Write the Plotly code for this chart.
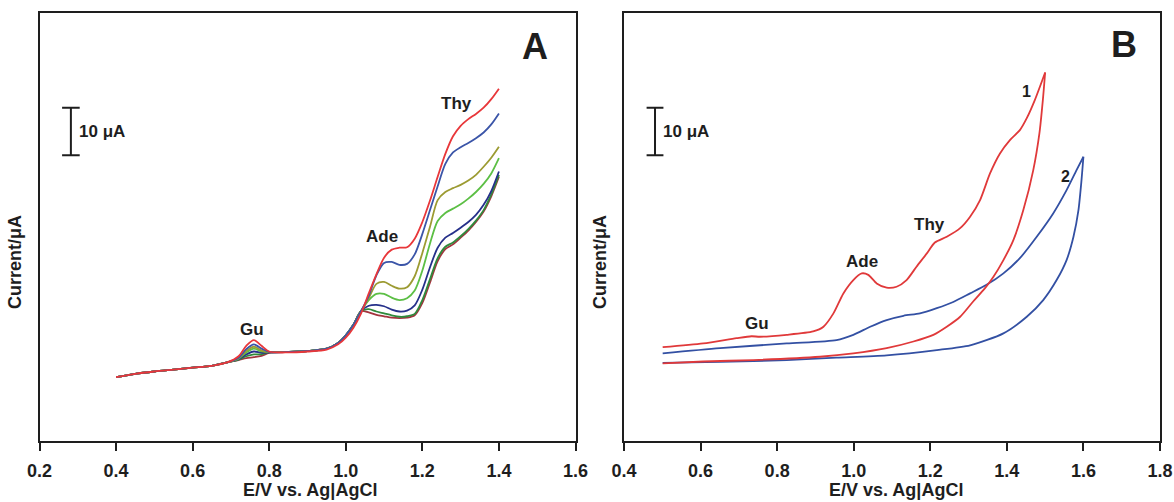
import plotly.graph_objects as go

# ---------------- Panel A data (DPV, several concentrations) ----------------
E_A = [0.40, 0.45, 0.50, 0.55, 0.60, 0.65, 0.69, 0.72, 0.74, 0.76, 0.78, 0.80,
       0.85, 0.90, 0.95, 0.98, 1.00, 1.02, 1.04, 1.06, 1.08, 1.10, 1.12, 1.14,
       1.16, 1.18, 1.20, 1.22, 1.24, 1.26, 1.28, 1.30, 1.32, 1.34, 1.36, 1.38, 1.40]

BASE_LOW = [13.4, 14.1, 14.6, 15.0, 15.4, 15.8, 16.5]
BASE_MID = [18.7, 18.9, 19.4, 20.6, 22.2, 24.4, 27.3]

GU_RED = [17.8, 20.0, 21.2, 20.0, 18.8]
GU_BLUE = [17.5, 19.3, 20.3, 19.4, 18.7]
GU_OLIVE = [17.4, 18.9, 19.8, 19.0, 18.7]
GU_GREEN = [17.3, 18.6, 19.4, 18.8, 18.7]
GU_NAVY = [17.2, 18.2, 18.8, 18.5, 18.6]
GU_DKGREEN = [17.1, 17.8, 18.2, 18.2, 18.6]
GU_MAROON = [17.0, 17.4, 17.6, 17.9, 18.5]

MID_RED = [18.6, 18.8, 19.2, 20.3, 21.7, 23.8, 26.8]

HI_RED = [31.0, 35.0, 38.5, 40.2, 40.6, 40.7, 42.5, 46.0, 50.5, 55.5, 60.3, 64.0,
          66.2, 67.6, 68.7, 70.0, 71.8, 74.0]
HI_BLUE = [30.5, 34.8, 37.4, 37.6, 37.0, 37.2, 39.2, 43.5, 48.5, 53.5, 58.2, 60.6,
           61.7, 62.6, 63.6, 64.8, 66.5, 68.8]
HI_OLIVE = [30.0, 33.0, 33.4, 32.6, 32.0, 32.3, 34.6, 39.5, 45.0, 50.6, 52.3, 53.1,
            53.8, 54.7, 55.9, 57.6, 59.5, 61.8]
HI_GREEN = [29.6, 30.9, 30.9, 30.1, 29.6, 30.0, 31.6, 35.8, 41.5, 46.2, 47.9, 48.8,
            49.7, 50.9, 52.3, 54.0, 56.2, 59.4]
HI_NAVY = [28.4, 28.6, 28.3, 27.6, 27.2, 27.4, 28.5, 31.8, 36.5, 40.6, 42.7, 43.7,
           44.8, 46.0, 47.5, 49.6, 52.5, 56.6]
HI_DKGREEN = [27.7, 27.2, 26.8, 26.4, 26.1, 26.2, 26.7, 29.6, 34.0, 38.4, 40.8, 41.7,
              43.0, 44.5, 46.3, 48.5, 51.8, 55.9]
HI_MAROON = [27.0, 26.5, 26.2, 25.9, 25.8, 25.9, 26.4, 29.0, 33.3, 37.8, 40.3, 41.3,
             42.7, 44.2, 46.0, 48.2, 51.4, 55.5]

A_SERIES = [
    ("#a3343e", GU_MAROON, BASE_MID, HI_MAROON),
    ("#2f8a3c", GU_DKGREEN, BASE_MID, HI_DKGREEN),
    ("#26308a", GU_NAVY, BASE_MID, HI_NAVY),
    ("#5cbf45", GU_GREEN, BASE_MID, HI_GREEN),
    ("#9c9b32", GU_OLIVE, BASE_MID, HI_OLIVE),
    ("#3b55a8", GU_BLUE, BASE_MID, HI_BLUE),
    ("#e8373a", GU_RED, MID_RED, HI_RED),
]

# ---------------- Panel B data (CV, curves 1 and 2) ----------------
B1_FWD_E = [0.501, 0.607, 0.694, 0.733, 0.755, 0.825, 0.894, 0.921, 0.947, 0.973,
            0.999, 1.021, 1.038, 1.060, 1.086, 1.112, 1.138, 1.164, 1.191, 1.212,
            1.243, 1.278, 1.304, 1.330, 1.356, 1.382, 1.408, 1.434, 1.452, 1.473, 1.500]
B1_FWD_I = [19.7, 20.5, 21.6, 22.0, 21.9, 22.3, 23.0, 24.0, 26.8, 31.0,
            33.8, 35.2, 34.9, 33.1, 32.2, 32.4, 33.8, 36.6, 39.4, 41.7,
            42.9, 44.7, 47.1, 50.6, 56.2, 60.4, 63.2, 65.3, 67.8, 71.6, 77.4]
B1_REV_E = [1.500, 1.494, 1.485, 1.469, 1.443, 1.417, 1.391, 1.365, 1.343, 1.312,
            1.278, 1.243, 1.208, 1.156, 1.086, 0.999, 0.912, 0.738, 0.607, 0.501]
B1_REV_I = [77.4, 71.6, 64.6, 56.9, 48.5, 42.2, 38.0, 34.5, 32.1, 29.3,
            26.1, 24.0, 22.3, 20.9, 19.5, 18.4, 17.7, 17.0, 16.7, 16.3]

B2_FWD_E = [0.501, 0.651, 0.825, 0.955, 0.999, 1.043, 1.086, 1.130, 1.173, 1.217,
            1.260, 1.304, 1.347, 1.391, 1.434, 1.478, 1.521, 1.556, 1.582, 1.600]
B2_FWD_I = [18.4, 19.5, 20.5, 21.2, 22.3, 24.0, 25.4, 26.3, 26.8, 27.9,
            29.2, 31.0, 32.8, 35.2, 38.4, 42.9, 47.8, 52.7, 56.9, 59.7]
B2_REV_E = [1.600, 1.595, 1.587, 1.574, 1.556, 1.530, 1.495, 1.452, 1.391, 1.304,
            1.217, 1.086, 0.955, 0.825, 0.651, 0.501]
B2_REV_I = [59.7, 54.8, 48.5, 42.9, 38.0, 33.8, 29.6, 26.1, 22.6, 20.1,
            19.1, 18.0, 17.5, 17.0, 16.6, 16.4]

RED_B = "#e0393a"
BLUE_B = "#3350a3"

X_TICKS_A = [0.2, 0.4, 0.6, 0.8, 1.0, 1.2, 1.4, 1.6]
X_TICKS_B = [0.4, 0.6, 0.8, 1.0, 1.2, 1.4, 1.6, 1.8]
X_LABEL = "E/V vs. Ag|AgCl"
Y_LABEL = "Current/μA"
SCALE_UA = 10

FONT = "Liberation Sans, Arial, sans-serif"
INK = "#1e1e1e"

fig = go.Figure()

for color, gu, mid, hi in A_SERIES:
    y = BASE_LOW + gu + mid + hi
    fig.add_trace(go.Scatter(x=E_A, y=y, mode="lines", xaxis="x", yaxis="y",
                             line=dict(color=color, width=1.8, shape="spline", smoothing=0.8),
                             showlegend=False, hoverinfo="skip"))

for ex, iy, col in [(B2_REV_E, B2_REV_I, BLUE_B), (B2_FWD_E, B2_FWD_I, BLUE_B),
                    (B1_REV_E, B1_REV_I, RED_B), (B1_FWD_E, B1_FWD_I, RED_B)]:
    fig.add_trace(go.Scatter(x=ex, y=iy, mode="lines", xaxis="x2", yaxis="y2",
                             line=dict(color=col, width=1.8, shape="spline", smoothing=0.7),
                             showlegend=False, hoverinfo="skip"))

W, H = 1174, 502
dom_a = [39.5 / W, 575.5 / W]
dom_b = [624 / W, 1160 / W]
dom_y = [(H - 441) / H, (H - 12.5) / H]
YR = [0, 90]

xcommon = dict(showline=True, linewidth=2, linecolor=INK, mirror=True, ticks="outside",
               ticklen=8, tickwidth=2, tickcolor=INK, showgrid=False, zeroline=False,
               tickfont=dict(family=FONT, size=18, color=INK, weight="bold"),
               tickformat=".1f", ticklabelstandoff=4, automargin=False)
ycommon = dict(showline=True, linewidth=2, linecolor=INK, mirror=True, ticks="",
               showticklabels=False, showgrid=False, zeroline=False, range=YR,
               automargin=False)

fig.update_layout(
    width=W, height=H, margin=dict(l=0, r=0, t=0, b=0),
    paper_bgcolor="white", plot_bgcolor="white",
    xaxis=dict(domain=dom_a, range=[0.2, 1.6], tickvals=X_TICKS_A, anchor="y", **xcommon),
    yaxis=dict(domain=dom_y, anchor="x", **ycommon),
    xaxis2=dict(domain=dom_b, range=[0.4, 1.8], tickvals=X_TICKS_B, anchor="y2", **xcommon),
    yaxis2=dict(domain=dom_y, anchor="x2", **ycommon),
)

shapes = []
ann = []


def txt(x, y, s, size=17, xref="x", yref="y", xanchor="center", textangle=0):
    ann.append(dict(x=x, y=y, xref=xref, yref=yref, text="<b>%s</b>" % s, showarrow=False,
                    font=dict(family=FONT, size=size, color=INK), xanchor=xanchor,
                    yanchor="middle", textangle=textangle))


# scale bars
for xr, yr, xb, cap in [("x", "y", 0.282, 0.023), ("x2", "y2", 0.481, 0.022)]:
    y0, y1 = 60.0, 60.0 + SCALE_UA
    shapes.append(dict(type="line", xref=xr, yref=yr, x0=xb, x1=xb, y0=y0, y1=y1,
                       line=dict(color=INK, width=2)))
    for yy in (y0, y1):
        shapes.append(dict(type="line", xref=xr, yref=yr, x0=xb - cap, x1=xb + cap, y0=yy, y1=yy,
                           line=dict(color=INK, width=2)))
    txt(xb + 0.015, (y0 + y1) / 2, "%d μA" % SCALE_UA, xref=xr, yref=yr, xanchor="left")

# panel A labels
txt(1.493, 82.8, "A", size=36)
txt(1.288, 70.8, "Thy")
txt(1.095, 42.9, "Ade")
txt(0.755, 23.5, "Gu")
# panel B labels
txt(1.706, 83.2, "B", size=36, xref="x2", yref="y2")
txt(1.452, 73.4, "1", size=16, xref="x2", yref="y2")
txt(1.552, 55.5, "2", size=16, xref="x2", yref="y2")
txt(1.199, 45.4, "Thy", xref="x2", yref="y2")
txt(1.021, 37.7, "Ade", xref="x2", yref="y2")
txt(0.747, 24.7, "Gu", xref="x2", yref="y2")

# axis titles
txt(310 / W, (H - 490) / H, X_LABEL, size=18, xref="paper", yref="paper")
txt(896 / W, (H - 490) / H, X_LABEL, size=18, xref="paper", yref="paper")
txt(15 / W, (H - 262) / H, Y_LABEL, size=18, xref="paper", yref="paper", textangle=-90)
txt(600 / W, (H - 262) / H, Y_LABEL, size=18, xref="paper", yref="paper", textangle=-90)

fig.update_layout(shapes=shapes, annotations=ann)
fig.write_html("out.html")
